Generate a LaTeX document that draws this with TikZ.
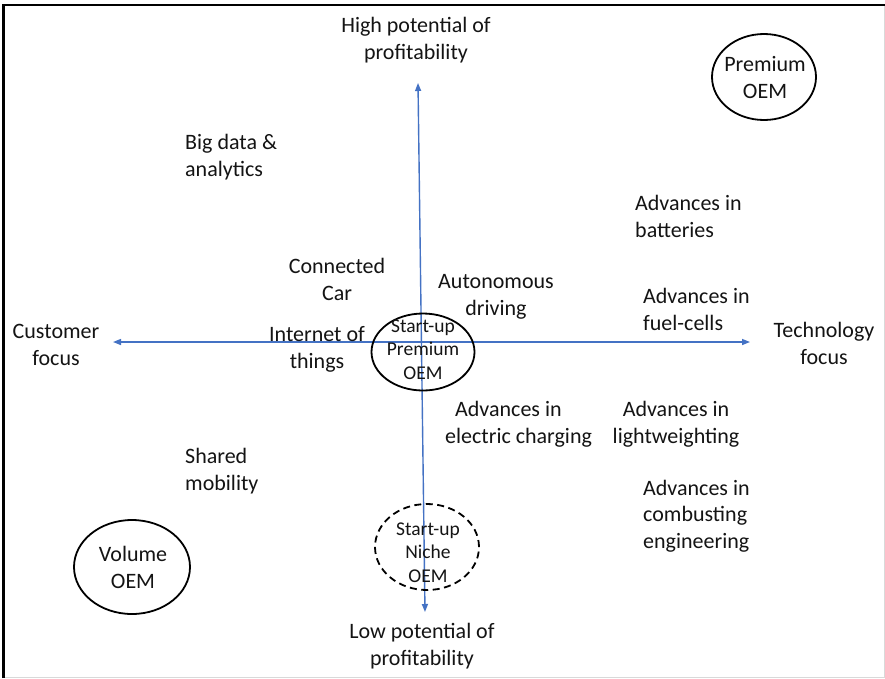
\documentclass[tikz,border=0pt]{standalone}
\usepackage{fontspec}
\setmainfont{Carlito}
\usetikzlibrary{arrows.meta,shapes.geometric}
\definecolor{axisblue}{RGB}{68,114,196}
\definecolor{inkgray}{RGB}{20,20,20}
\begin{document}
\begin{tikzpicture}[x=1pt,y=-1pt,
  lbl/.style={inner sep=0pt, text=inkgray, font=\fontsize{22}{26.5}\selectfont},
  smalllbl/.style={inner sep=0pt, text=inkgray, font=\fontsize{19.5}{23.5}\selectfont},
  oval/.style={ellipse, draw=black, line width=1.8pt, inner sep=0pt},
  axis/.style={draw=axisblue, line width=1.4pt,
    {Triangle[length=8pt,width=6pt]}-{Triangle[length=8pt,width=6pt]}}
]
% canvas and frame
\useasboundingbox (0,0) rectangle (885,678);
\fill[white] (0,0) rectangle (885,678);
\draw[black!15, line width=1pt] (884,5) -- (884,677.5) -- (3,677.5);
\draw[black, line width=2.2pt] (3.5,678) -- (3.5,5) -- (885,5);

% axes
\coordinate (ytop) at (418,83);
\coordinate (ybot) at (425,612);
\coordinate (xleft) at (113,342);
\coordinate (xright) at (750,342);
\draw[axis] (ybot) -- (ytop);
\draw[axis] (xleft) -- (xright);

% axis captions
\node[lbl, align=center, anchor=base] (high) at (416,59) {High potential of\\profitability};
\node[lbl, align=center, anchor=base] (low) at (422,665) {Low potential of\\profitability};
\node[lbl, align=center, anchor=base] (customer) at (56,365) {Customer\\focus};
\node[lbl, align=center, anchor=base] (technology) at (824,364) {Technology\\focus};

% trends
\node[lbl, align=left, anchor=base west] (bigdata) at (185,176) {Big data \&\\analytics};
\node[lbl, align=left, anchor=base west] (batteries) at (635,237) {Advances in\\batteries};
\node[lbl, align=center, anchor=base] (connected) at (337,300) {Connected\\Car};
\node[lbl, align=center, anchor=base] (autonomous) at (496,315) {Autonomous\\driving};
\node[lbl, align=left, anchor=base west] (fuelcells) at (643,330) {Advances in\\fuel-cells};
\node[lbl, align=center, anchor=base] (iot) at (317,368) {Internet of\\things};
\node[lbl, align=left, anchor=base west] (charging) at (445,443) {\hspace*{10pt}Advances in\\electric charging};
\node[lbl, align=center, anchor=base] (lightweight) at (676,443) {Advances in\\lightweighting};
\node[lbl, align=left, anchor=base west] (shared) at (185,490) {Shared\\mobility};
\node[lbl, align=left, anchor=base west] (combusting) at (643,548) {Advances in\\combusting\\engineering};

% players
\node[oval, minimum width=104pt, minimum height=86pt] (premium) at (764,77) {};
\node[lbl, align=center, anchor=base] (premiumtxt) at (765,98) {Premium\\OEM};
\node[oval, minimum width=103pt, minimum height=77pt] (startprem) at (423,352) {};
\node[smalllbl, align=center, anchor=base] (startpremtxt) at (423,379) {Start-up\\Premium\\OEM};
\node[oval, dash pattern=on 7pt off 4.5pt, minimum width=104pt, minimum height=86pt] (niche) at (427,547) {};
\node[smalllbl, align=center, anchor=base] (nichetxt) at (428,582) {Start-up\\Niche\\OEM};
\node[oval, minimum width=116pt, minimum height=94pt] (volume) at (132,567) {};
\node[lbl, align=center, anchor=base] (volumetxt) at (133,588) {Volume\\OEM};
\end{tikzpicture}
\end{document}
